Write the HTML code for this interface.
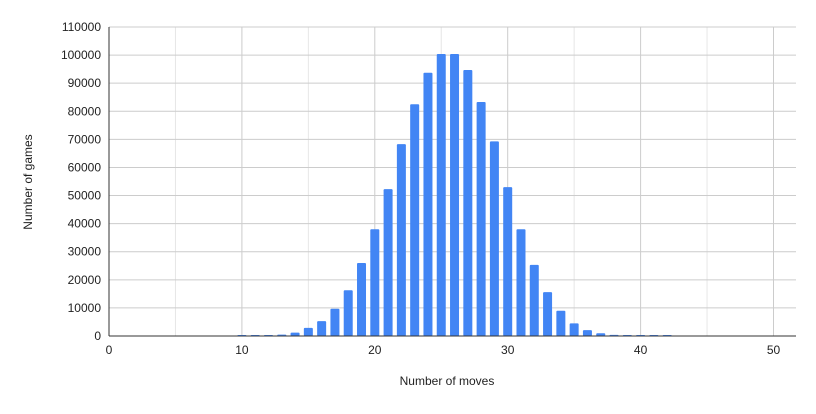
<!DOCTYPE html>
<html><head><meta charset="utf-8"><style>
body{margin:0;background:#fff;font-family:"Liberation Sans",Arial,sans-serif}
</style></head><body>
<svg id="c" width="816" height="409" xmlns="http://www.w3.org/2000/svg" font-family="Liberation Sans, Arial, sans-serif"></svg>
<script>
const moves=[10,11,12,13,14,15,16,17,18,19,20,21,22,23,24,25,26,27,28,29,30,31,32,33,34,35,36,37,38,39,40,41,42];
const games=[100,150,200,500,1200,2900,5300,9700,16300,26000,38000,52300,68300,82500,93700,100400,100400,94700,83300,69300,53000,38000,25300,15600,9000,4500,2100,1000,400,150,100,80,50];
const yTicks=[0,10000,20000,30000,40000,50000,60000,70000,80000,90000,100000,110000];
const xTicks=[0,10,20,30,40,50];
const xMinor=[5,15,25,35,45];
const svg=document.getElementById('c');const NS='http://www.w3.org/2000/svg';
const L=109,R=796,T=27,B=336;
const xs=v=>L+v*13.29;
const ys=v=>B-v*(B-T)/110000;
function el(t,a,p){const e=document.createElementNS(NS,t);for(const k in a)e.setAttribute(k,a[k]);(p||svg).appendChild(e);return e;}
xMinor.forEach(v=>{const g=el('line',{x1:xs(v),x2:xs(v),y1:T,y2:B,stroke:'#e6e6e6'});

});
xTicks.forEach(v=>{const g=el('line',{x1:xs(v),x2:xs(v),y1:T,y2:B,stroke:'#cccccc'});


const t=el('text',{x:xs(v),y:354,'font-size':12,'text-anchor':'middle',fill:'#222'});t.textContent=v;

});
yTicks.forEach(v=>{const g=el('line',{x1:L,x2:R,y1:ys(v),y2:ys(v),stroke:'#cccccc'});


const t=el('text',{x:L-8,y:ys(v)+4,'font-size':12,'text-anchor':'end',fill:'#222'});t.textContent=v;

});
moves.forEach((m,i)=>{const y=ys(games[i]);const h=Math.max(B-y,1);
const r=el('rect',{x:xs(m)-4.5,y:B-h,width:9,height:h,fill:'#4285f4',rx:1});

});
const ax=el('line',{x1:L,x2:R,y1:B,y2:B,stroke:'#333'});


const ay=el('line',{x1:L,x2:L,y1:T,y2:B,stroke:'#333'});


const xt=el('text',{x:447,y:385,'font-size':12,'text-anchor':'middle',fill:'#222'});xt.textContent='Number of moves';


const yt=el('text',{x:32,y:182,'font-size':12,'text-anchor':'middle',fill:'#222',transform:'rotate(-90 32 182)'});yt.textContent='Number of games';


</script>
</body></html>
